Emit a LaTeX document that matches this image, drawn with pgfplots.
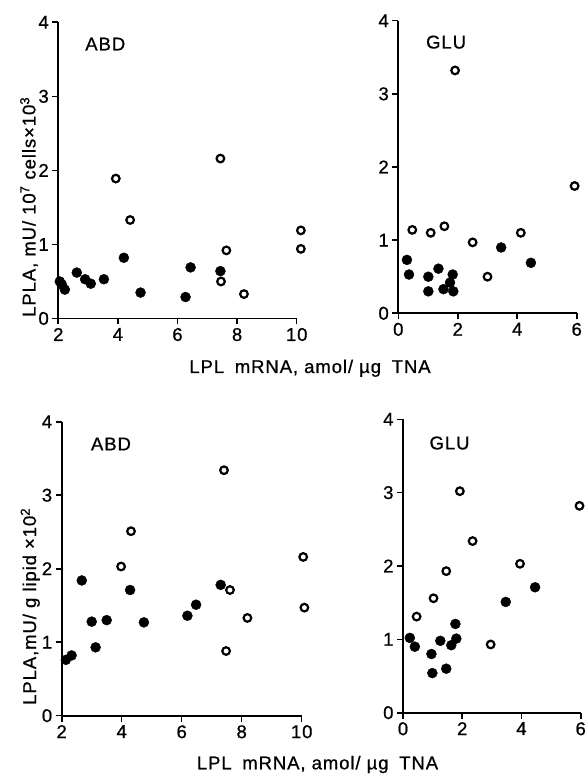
\documentclass[border=0pt]{standalone}
\usepackage{fontspec}
\setmainfont{Liberation Sans}[LetterSpace=5, FakeBold=0.8]
\usepackage{pgfplots}
\pgfplotsset{compat=1.18}

\pgfplotsset{
  panel/.style={
    scale only axis,
    anchor=south west,
    ymin=0, ymax=4,
    ytick={0,1,2,3,4},
    axis x line=bottom,
    axis y line=left,
    axis line style={line width=1.9pt, -},
    tick style={line width=1.6pt, black},
    tick align=outside,
    major tick length=6pt,
    clip=false,
    /pgf/number format/assume math mode=true,
  },
  filled/.style={only marks, mark=*, mark size=5pt, black},
  open/.style={only marks, mark=o, mark size=3.8pt, black, line width=2.2pt,
    mark options={line width=2.2pt}},
}

\begin{document}
\begin{tikzpicture}[font=\fontsize{18.5}{21}\selectfont]
\path[use as bounding box] (0,0) rectangle (586pt,774pt);

% top left: ABD, per cells
\begin{axis}[panel, at={(58.3pt,455.5pt)}, width=238.4pt, height=296.2pt,
  xmin=2, xmax=10, xtick={2,4,6,8,10}]
\addplot[filled] coordinates {
(2.05,0.50) (2.12,0.46) (2.22,0.39) (2.62,0.62) (2.90,0.53) (3.09,0.47)
(3.53,0.53) (4.20,0.82) (4.76,0.35) (6.27,0.29) (6.44,0.69) (7.44,0.64)
};
\addplot[open] coordinates {
(3.93,1.89) (4.41,1.33) (7.44,2.16) (7.64,0.92) (7.46,0.50) (8.23,0.33)
(10.14,1.19) (10.14,0.94)
};
\node[anchor=base west, inner sep=0] at (axis cs:2.9,3.62) {ABD};
\end{axis}

% top right: GLU, per cells
\begin{axis}[panel, at={(398.3pt,460.7pt)}, width=178.4pt, height=292.6pt,
  xmin=0, xmax=6, xtick={0,2,4,6}]
\addplot[filled] coordinates {
(0.29,0.73) (0.36,0.53) (1.01,0.50) (1.01,0.30) (1.35,0.61) (1.52,0.33)
(1.83,0.53) (1.74,0.42) (1.85,0.30) (3.46,0.90) (4.46,0.69)
};
\addplot[open] coordinates {
(0.47,1.14) (1.09,1.10) (1.55,1.19) (2.50,0.97) (3.00,0.50) (4.12,1.10)
(5.93,1.74) (1.91,3.32)
};
\node[anchor=base west, inner sep=0] at (axis cs:0.93,3.62) {GLU};
\end{axis}

% bottom left: ABD, per lipid
\begin{axis}[panel, at={(61.7pt,58.3pt)}, width=240pt, height=294pt,
  xmin=2, xmax=10, xtick={2,4,6,8,10}]
\addplot[filled] coordinates {
(2.14,0.76) (2.33,0.82) (2.67,1.84) (3.00,1.28) (3.13,0.93) (3.50,1.30)
(4.28,1.71) (4.74,1.27) (6.19,1.36) (6.48,1.51) (7.30,1.78)
};
\addplot[open] coordinates {
(3.98,2.03) (4.31,2.51) (7.41,3.34) (7.61,1.71) (8.19,1.33) (7.48,0.88)
(10.05,2.16) (10.09,1.47)
};
\node[anchor=base west, inner sep=0] at (axis cs:2.97,3.61) {ABD};
\end{axis}

% bottom right: GLU, per lipid
\begin{axis}[panel, at={(403pt,61.3pt)}, width=177.7pt, height=293.4pt,
  xmin=0, xmax=6, xtick={0,2,4,6}]
\addplot[filled] coordinates {
(0.23,1.02) (0.40,0.90) (0.96,0.80) (0.99,0.54) (1.26,0.98) (1.46,0.60)
(1.63,0.92) (1.80,1.01) (1.77,1.21) (3.47,1.51) (4.46,1.71)
};
\addplot[open] coordinates {
(0.46,1.31) (1.03,1.56) (1.46,1.93) (2.35,2.34) (2.96,0.93) (3.95,2.03)
(5.96,2.82) (1.92,3.02)
};
\node[anchor=base west, inner sep=0] at (axis cs:0.89,3.59) {GLU};
\end{axis}

% axis titles
\node[rotate=90, anchor=base west, inner sep=0] at (35.5pt,457pt)
  {LPLA, mU/ 10\textsuperscript{7} cells×10\textsuperscript{3}};
\node[rotate=90, anchor=base west, inner sep=0] at (36pt,69pt)
  {LPLA,mU/ g lipid ×10\textsuperscript{2}};
\node[anchor=base, inner sep=0] at (310pt,401pt)
  {LPL\hspace{0.25em} mRNA, amol/ µg\hspace{0.25em} TNA};
\node[anchor=base, inner sep=0] at (317.5pt,4.7pt)
  {LPL\hspace{0.25em} mRNA, amol/ µg\hspace{0.25em} TNA};
\end{tikzpicture}
\end{document}
